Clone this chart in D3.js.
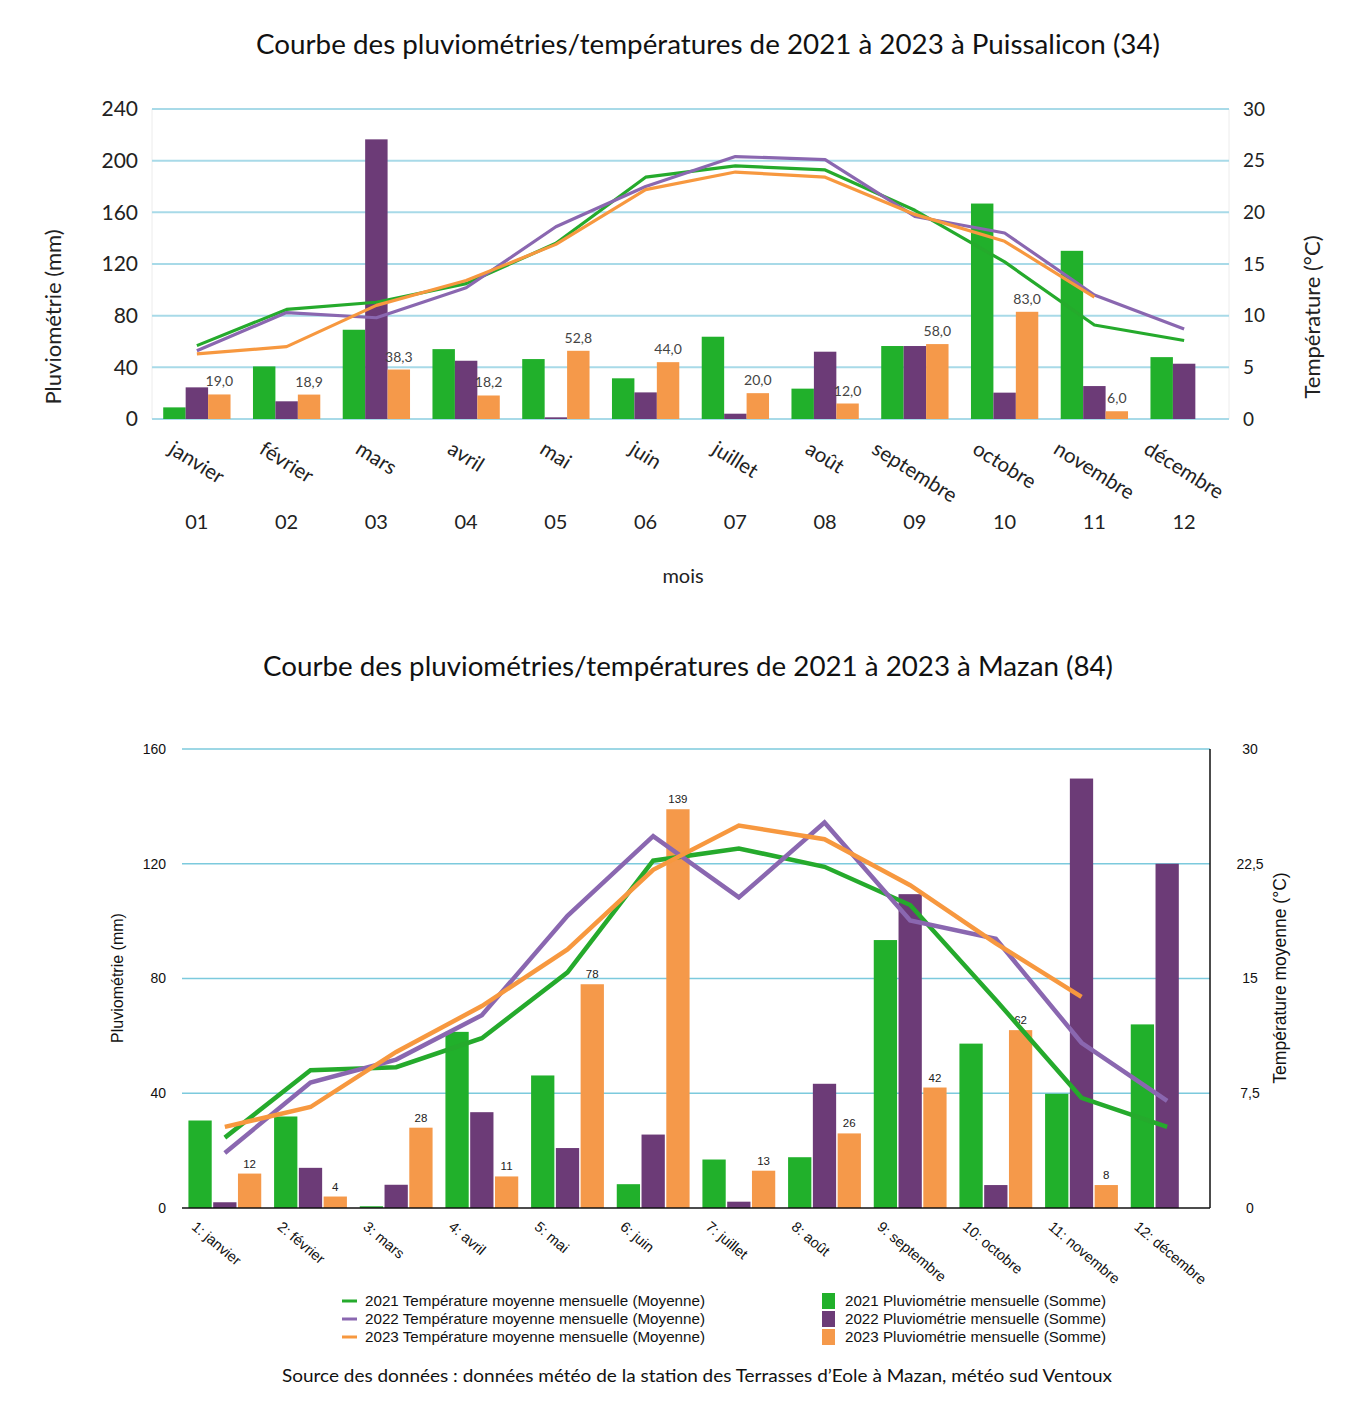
<!DOCTYPE html>
<html>
<head>
<meta charset="utf-8">
<script src="https://cdn.jsdelivr.net/npm/d3@7"></script>
<style>
  body { margin: 0; background: #fff; }
  svg { display: block; }
</style>
</head>
<body>
<svg id="chart" width="1354" height="1406"></svg>
<script>
// ---- data ----
var months = ['janvier', 'février', 'mars', 'avril', 'mai', 'juin', 'juillet', 'août', 'septembre', 'octobre', 'novembre', 'décembre'];
var monthNums = ['01', '02', '03', '04', '05', '06', '07', '08', '09', '10', '11', '12'];
var years = ['2021', '2022', '2023'];

// Puissalicon (34)
var rainP2021 = [9.0, 40.7, 69.1, 54.1, 46.4, 31.5, 63.7, 23.5, 56.5, 166.8, 130.2, 47.9];
var rainP2022 = [24.5, 13.7, 216.5, 45.1, 1.3, 20.6, 4.1, 52.1, 56.5, 20.4, 25.5, 42.8];
var rainP2023 = [19.0, 18.9, 38.3, 18.2, 52.8, 44.0, 20.0, 12.0, 58.0, 83.0, 6.0, null];
var tempP2021 = [7.1, 10.6, 11.3, 13.1, 17.0, 23.4, 24.5, 24.1, 20.2, 15.2, 9.1, 7.6];
var tempP2022 = [6.6, 10.3, 9.8, 12.7, 18.6, 22.5, 25.4, 25.1, 19.6, 18.0, 12.0, 8.7];
var tempP2023 = [6.3, 7.0, 11.0, 13.4, 16.9, 22.2, 23.9, 23.4, 19.8, 17.2, 11.8, null];
var rainTicksP = [0, 40, 80, 120, 160, 200, 240];
var tempTicksP = [0, 5, 10, 15, 20, 25, 30];

// Mazan (84)
var rainM2021 = [30.5, 31.9, 0.6, 61.4, 46.2, 8.3, 16.9, 17.7, 93.4, 57.3, 39.8, 64.0];
var rainM2022 = [2.0, 14.0, 8.1, 33.4, 20.9, 25.6, 2.2, 43.3, 109.4, 8.0, 149.7, 120.0];
var rainM2023 = [12, 4, 28, 11, 78, 139, 13, 26, 42, 62, 8, null];
var tempM2021 = [4.6, 9.0, 9.2, 11.1, 15.4, 22.7, 23.5, 22.3, 19.8, 13.6, 7.2, 5.3];
var tempM2022 = [3.6, 8.2, 9.7, 12.6, 19.1, 24.3, 20.3, 25.2, 18.8, 17.6, 10.8, 7.0];
var tempM2023 = [5.3, 6.6, 10.2, 13.2, 16.9, 22.1, 25.0, 24.1, 21.1, 17.3, 13.8, null];
var rainTicksM = [0, 40, 80, 120, 160];
var tempTicksM = [0, 7.5, 15, 22.5, 30];

var barColors = {'2021': '#21b02b', '2022': '#6c3b77', '2023': '#f5994a'};
var lineColors = {'2021': '#25aa2c', '2022': '#8a67b0', '2023': '#f7983f'};

var svg = d3.select('#chart');
var frNum = function(v) { return String(v).replace('.', ','); };

function buildSeries(r1, r2, r3, t1, t2, t3) {
  var rain = {'2021': r1, '2022': r2, '2023': r3};
  var temp = {'2021': t1, '2022': t2, '2023': t3};
  return {rain: rain, temp: temp};
}

// ================= chart 1 : Puissalicon =================
function chartPuissalicon() {
  var s = buildSeries(rainP2021, rainP2022, rainP2023, tempP2021, tempP2022, tempP2023);
  var sans = 'Lato, "Open Sans", sans-serif';
  var g = svg.append('g');

  g.append('text').attr('x', 708).attr('y', 54).attr('text-anchor', 'middle')
    .attr('textLength', 904).attr('lengthAdjust', 'spacingAndGlyphs')
    .style('font-family', sans).style('font-size', '27px').attr('fill', '#111')
    .text('Courbe des pluviométries/températures de 2021 à 2023 à Puissalicon (34)');

  var x = d3.scaleBand().domain(months).range([152, 1229]).paddingInner(0.25).paddingOuter(0.125);
  var xs = d3.scaleBand().domain(years).range([0, x.bandwidth()]);
  var y = d3.scaleLinear().domain([0, 240]).range([419, 109]);
  var yt = d3.scaleLinear().domain([0, 30]).range([419, 109]);

  // frame lines
  g.append('line').attr('x1', 152).attr('x2', 152).attr('y1', 109).attr('y2', 419).attr('stroke', '#ececec');
  g.append('line').attr('x1', 1229).attr('x2', 1229).attr('y1', 109).attr('y2', 419).attr('stroke', '#ececec');

  // grid
  g.selectAll('.gridP').data(rainTicksP).enter().append('line')
    .attr('x1', 152).attr('x2', 1229)
    .attr('y1', function(d) { return y(d); }).attr('y2', function(d) { return y(d); })
    .attr('stroke', '#a8dae8').attr('stroke-width', 2);

  // left axis
  var yAxis = d3.axisLeft(y).tickValues(rainTicksP).tickSize(0).tickPadding(14);
  var ga = g.append('g').attr('transform', 'translate(152,0)').call(yAxis);
  ga.select('.domain').remove();
  ga.selectAll('text').style('font-family', sans).style('font-size', '21px').attr('fill', '#222');

  // right axis
  var yAxisR = d3.axisRight(yt).tickValues(tempTicksP).tickSize(0).tickPadding(14);
  var gr = g.append('g').attr('transform', 'translate(1229,0)').call(yAxisR);
  gr.select('.domain').remove();
  gr.selectAll('text').style('font-family', sans).style('font-size', '19px').attr('fill', '#222');

  g.append('text').attr('transform', 'translate(61,317) rotate(-90)').attr('text-anchor', 'middle')
    .style('font-family', sans).style('font-size', '22px').attr('fill', '#222').text('Pluviométrie (mm)');
  g.append('text').attr('transform', 'translate(1320,317) rotate(-90)').attr('text-anchor', 'middle')
    .style('font-family', sans).style('font-size', '22px').attr('fill', '#222').text('Température (°C)');

  // bars
  years.forEach(function(yr) {
    g.selectAll('.barP' + yr).data(months).enter().append('rect')
      .filter(function(m, i) { return s.rain[yr][i] != null; })
      .attr('x', function(m) { return x(m) + xs(yr); })
      .attr('width', xs.bandwidth())
      .attr('y', function(m) { return y(s.rain[yr][months.indexOf(m)]); })
      .attr('height', function(m) { return 419 - y(s.rain[yr][months.indexOf(m)]); })
      .attr('fill', barColors[yr]);
  });

  // labels on 2023 bars
  g.selectAll('.lblP').data(months.filter(function(m, i) { return rainP2023[i] != null; })).enter().append('text')
    .attr('x', function(m) { return x(m) + xs('2023') + xs.bandwidth() / 2; })
    .attr('y', function(m) { return y(rainP2023[months.indexOf(m)]) - 8; })
    .attr('text-anchor', 'middle')
    .style('font-family', sans).style('font-size', '14px').attr('fill', '#444')
    .text(function(m) { return frNum(d3.format('.1f')(rainP2023[months.indexOf(m)])); });

  // lines
  years.forEach(function(yr) {
    var line = d3.line()
      .defined(function(d) { return d.v != null; })
      .x(function(d) { return x(d.m) + x.bandwidth() / 2; })
      .y(function(d) { return yt(d.v); });
    var pts = months.map(function(m, i) { return {m: m, v: s.temp[yr][i]}; });
    g.append('path').datum(pts).attr('d', line).attr('fill', 'none')
      .attr('stroke', lineColors[yr]).attr('stroke-width', 3.2).attr('stroke-linejoin', 'round');
  });

  // month labels (rotated)
  var ang = 32;
  g.selectAll('.monP').data(months).enter().append('text')
    .attr('text-anchor', 'middle')
    .attr('dy', '0.35em')
    .style('font-family', sans).style('font-size', '20.5px').attr('fill', '#222')
    .text(function(d) { return d; })
    .each(function(d) {
      var L = this.getComputedTextLength();
      var a = ang * Math.PI / 180;
      var h = L * Math.sin(a) + 20 * Math.cos(a);
      var cx = x(d) + x.bandwidth() / 2;
      d3.select(this).attr('transform', 'translate(' + cx + ',' + (438 + h / 2) + ') rotate(' + ang + ')');
    });

  g.selectAll('.numP').data(months).enter().append('text')
    .attr('x', function(d) { return x(d) + x.bandwidth() / 2; })
    .attr('y', 529).attr('text-anchor', 'middle')
    .style('font-family', sans).style('font-size', '20px').attr('fill', '#222')
    .text(function(d, i) { return monthNums[i]; });

  g.append('text').attr('x', 683).attr('y', 583).attr('text-anchor', 'middle')
    .style('font-family', sans).style('font-size', '20px').attr('fill', '#222').text('mois');
}

// ================= chart 2 : Mazan =================
function chartMazan() {
  var s = buildSeries(rainM2021, rainM2022, rainM2023, tempM2021, tempM2022, tempM2023);
  var sans = 'Lato, "Open Sans", sans-serif';
  var helv = '"Liberation Sans", Arial, sans-serif';
  var g = svg.append('g');

  g.append('text').attr('x', 688).attr('y', 676).attr('text-anchor', 'middle')
    .attr('textLength', 850).attr('lengthAdjust', 'spacingAndGlyphs')
    .style('font-family', sans).style('font-size', '27px').attr('fill', '#111')
    .text('Courbe des pluviométries/températures de 2021 à 2023 à Mazan (84)');

  var x = d3.scaleBand().domain(months).range([182, 1210]).paddingInner(0.15).paddingOuter(0.075);
  var xs = d3.scaleBand().domain(years).range([0, x.bandwidth()]).paddingInner(0.06);
  var y = d3.scaleLinear().domain([0, 160]).range([1208, 749]);
  var yt = d3.scaleLinear().domain([0, 30]).range([1208, 749]);

  g.selectAll('.gridM').data(rainTicksM.filter(function(d) { return d > 0; })).enter().append('line')
    .attr('x1', 182).attr('x2', 1210)
    .attr('y1', function(d) { return y(d); }).attr('y2', function(d) { return y(d); })
    .attr('stroke', '#7ccadd').attr('stroke-width', 1.5);

  var yAxis = d3.axisLeft(y).tickValues(rainTicksM).tickSize(0).tickPadding(16);
  var ga = g.append('g').attr('transform', 'translate(182,0)').call(yAxis);
  ga.select('.domain').remove();
  ga.selectAll('text').style('font-family', helv).style('font-size', '14px').attr('fill', '#111');

  var yAxisR = d3.axisRight(yt).tickValues(tempTicksM).tickSize(0).tickPadding(40)
    .tickFormat(function(d) { return frNum(d); });
  var gr = g.append('g').attr('transform', 'translate(1210,0)').call(yAxisR);
  gr.select('.domain').remove();
  gr.selectAll('text').attr('text-anchor', 'middle')
    .style('font-family', helv).style('font-size', '14px').attr('fill', '#111');

  g.append('text').attr('transform', 'translate(123,978) rotate(-90)').attr('text-anchor', 'middle')
    .style('font-family', helv).style('font-size', '16px').attr('fill', '#111').text('Pluviométrie (mm)');
  g.append('text').attr('transform', 'translate(1286,978) rotate(-90)').attr('text-anchor', 'middle')
    .style('font-family', helv).style('font-size', '17.5px').attr('fill', '#111').text('Température moyenne (°C)');

  years.forEach(function(yr) {
    g.selectAll('.barM' + yr).data(months).enter().append('rect')
      .filter(function(m, i) { return s.rain[yr][i] != null; })
      .attr('x', function(m) { return x(m) + xs(yr); })
      .attr('width', xs.bandwidth())
      .attr('y', function(m) { return y(s.rain[yr][months.indexOf(m)]); })
      .attr('height', function(m) { return 1208 - y(s.rain[yr][months.indexOf(m)]); })
      .attr('fill', barColors[yr]);
  });

  g.selectAll('.lblM').data(months.filter(function(m, i) { return rainM2023[i] != null; })).enter().append('text')
    .attr('x', function(m) { return x(m) + xs('2023') + xs.bandwidth() / 2; })
    .attr('y', function(m) { return y(rainM2023[months.indexOf(m)]) - 6; })
    .attr('text-anchor', 'middle')
    .style('font-family', helv).style('font-size', '11.5px').attr('fill', '#222')
    .text(function(m) { return rainM2023[months.indexOf(m)]; });

  years.forEach(function(yr) {
    var line = d3.line()
      .defined(function(d) { return d.v != null; })
      .x(function(d) { return x(d.m) + x.bandwidth() / 2; })
      .y(function(d) { return yt(d.v); });
    var pts = months.map(function(m, i) { return {m: m, v: s.temp[yr][i]}; });
    g.append('path').datum(pts).attr('d', line).attr('fill', 'none')
      .attr('stroke', lineColors[yr]).attr('stroke-width', 4.5).attr('stroke-linejoin', 'miter');
  });

  // axis frame (bottom + right)
  g.append('line').attr('x1', 182).attr('x2', 1210).attr('y1', 1208).attr('y2', 1208).attr('stroke', '#111').attr('stroke-width', 1.5);
  g.append('line').attr('x1', 1210).attr('x2', 1210).attr('y1', 749).attr('y2', 1208).attr('stroke', '#111').attr('stroke-width', 1.5);

  g.selectAll('.monM').data(months).enter().append('text')
    .attr('transform', function(d) {
      return 'translate(' + (x(d) + x.bandwidth() / 2 - 27) + ',1220) rotate(40)';
    })
    .attr('dy', '0.75em')
    .style('font-family', helv).style('font-size', '14.5px').attr('fill', '#111')
    .text(function(d, i) { return (i + 1) + ': ' + d; });

  // legend
  var leg = g.append('g');
  var rowsY = [1301, 1319, 1337];
  years.forEach(function(yr, i) {
    leg.append('line').attr('x1', 342).attr('x2', 357).attr('y1', rowsY[i]).attr('y2', rowsY[i])
      .attr('stroke', lineColors[yr]).attr('stroke-width', 3);
    leg.append('text').attr('x', 365).attr('y', rowsY[i]).attr('dy', '0.35em')
      .attr('textLength', 340).attr('lengthAdjust', 'spacingAndGlyphs')
      .style('font-family', helv).style('font-size', '15px').attr('fill', '#111')
      .text(yr + ' Température moyenne mensuelle (Moyenne)');
    leg.append('rect').attr('x', 822).attr('y', rowsY[i] - 8).attr('width', 13).attr('height', 16)
      .attr('fill', barColors[yr]);
    leg.append('text').attr('x', 845).attr('y', rowsY[i]).attr('dy', '0.35em')
      .attr('textLength', 261).attr('lengthAdjust', 'spacingAndGlyphs')
      .style('font-family', helv).style('font-size', '15px').attr('fill', '#111')
      .text(yr + ' Pluviométrie mensuelle (Somme)');
  });

  g.append('text').attr('x', 697).attr('y', 1382).attr('text-anchor', 'middle')
    .attr('textLength', 830).attr('lengthAdjust', 'spacingAndGlyphs')
    .style('font-family', sans).style('font-size', '18px').attr('fill', '#111')
    .text('Source des données : données météo de la station des Terrasses d\u2019Eole à Mazan, météo sud Ventoux');
}

chartPuissalicon();
chartMazan();
</script>
</body>
</html>
